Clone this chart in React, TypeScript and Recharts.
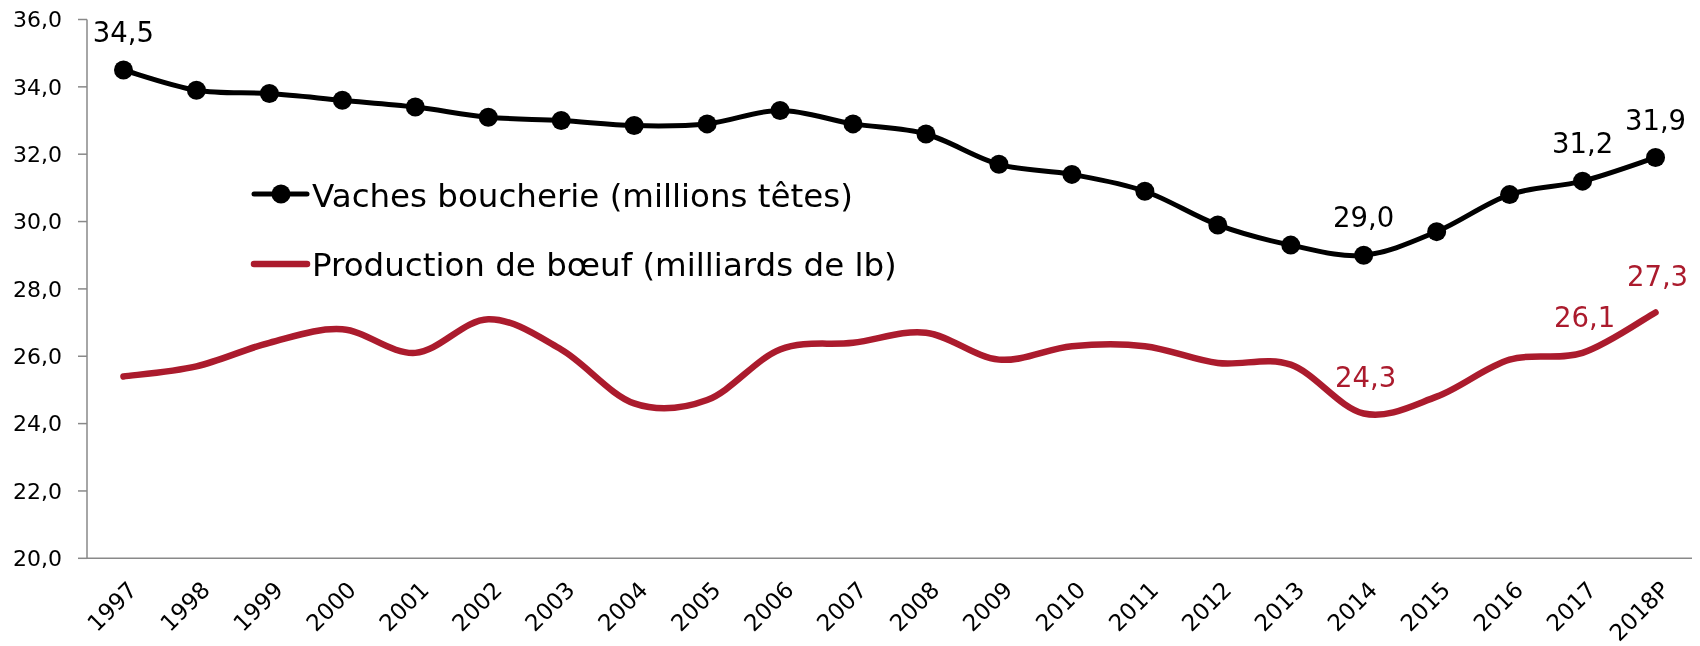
import React from 'react';
import { LineChart, Line, XAxis, YAxis, Legend } from 'recharts';

const years = ['1997', '1998', '1999', '2000', '2001', '2002', '2003', '2004', '2005', '2006', '2007', '2008', '2009', '2010', '2011', '2012', '2013', '2014', '2015', '2016', '2017', '2018P'];
const vaches = [34.5, 33.9, 33.8, 33.6, 33.4, 33.1, 33.0, 32.85, 32.9, 33.3, 32.9, 32.6, 31.7, 31.4, 30.9, 29.9, 29.3, 29.0, 29.7, 30.8, 31.2, 31.9];
const boeuf = [25.4, 25.7, 26.4, 26.8, 26.1, 27.1, 26.2, 24.6, 24.7, 26.2, 26.4, 26.7, 25.9, 26.3, 26.3, 25.8, 25.75, 24.3, 24.8, 25.9, 26.1, 27.3];
const seriesNames = ['Vaches boucherie (millions têtes)', 'Production de bœuf (milliards de lb)'];
const yTicks = [20, 22, 24, 26, 28, 30, 32, 34, 36];
const xBoundaryTicks = [0, 1, 2, 3, 4, 5, 6, 7, 8, 9, 10, 11, 12, 13, 14, 15, 16, 17, 18, 19, 20, 21, 22];
const blackLabelIdx = [0, 17, 20, 21];
const redLabelIdx = [17, 20, 21];

const RED = '#AB1B2D';
const AXIS = '#898989';
const FONT = 'DejaVu Sans';

const data = years.map((y, i) => ({ year: y, vaches: vaches[i], boeuf: boeuf[i] }));

const fmt = (v: number) => v.toFixed(1).replace('.', ',');

// Excel-like smoothed curve (Catmull-Rom as cubic Bezier)
const excelCurve: any = (context: any) => {
  let pts: number[][] = [];
  return {
    areaStart() {},
    areaEnd() {},
    lineStart() {
      pts = [];
    },
    lineEnd() {
      const n = pts.length;
      if (!n) return;
      context.moveTo(pts[0][0], pts[0][1]);
      if (n === 1) return;
      for (let i = 0; i < n - 1; i++) {
        const p0 = pts[i > 0 ? i - 1 : i];
        const p1 = pts[i];
        const p2 = pts[i + 1];
        const p3 = pts[i + 2 < n ? i + 2 : i + 1];
        context.bezierCurveTo(
          p1[0] + (p2[0] - p0[0]) / 6,
          p1[1] + (p2[1] - p0[1]) / 6,
          p2[0] - (p3[0] - p1[0]) / 6,
          p2[1] - (p3[1] - p1[1]) / 6,
          p2[0],
          p2[1]
        );
      }
    },
    point(x: number, y: number) {
      pts.push([+x, +y]);
    },
  };
};

const BlackDot = (props: any) => {
  const { cx, cy, index, payload } = props;
  return (
    <g key={`b${index}`}>
      <circle cx={cx} cy={cy} r={9.5} fill="#000" />
      {blackLabelIdx.includes(index) && (
        <text x={cx} y={cy - 28} textAnchor="middle" fontSize={27.5} fill="#000" fontFamily={FONT}>
          {fmt(payload.vaches)}
        </text>
      )}
    </g>
  );
};

const RedDot = (props: any) => {
  const { cx, cy, index, payload } = props;
  if (!redLabelIdx.includes(index)) return <g key={`r${index}`} />;
  return (
    <g key={`r${index}`}>
      <text x={cx + 2} y={cy - 26} textAnchor="middle" fontSize={27.5} fill={RED} fontFamily={FONT}>
        {fmt(payload.boeuf)}
      </text>
    </g>
  );
};

const YearTick = (props: any) => {
  const { x, y, payload } = props;
  const ax = x + 15;
  const ay = y + 32;
  return (
    <text x={ax} y={ay} transform={`rotate(-45 ${ax} ${ay})`} textAnchor="end" fontSize={23} fill="#000" fontFamily={FONT}>
      {payload.value}
    </text>
  );
};

const LegendContent = () => (
  <svg width={700} height={130} style={{ overflow: 'visible', display: 'block' }}>
    <line x1={6} y1={36} x2={59} y2={36} stroke="#000" strokeWidth={5} strokeLinecap="round" />
    <circle cx={33} cy={36} r={9.5} fill="#000" />
    <text x={64} y={48.5} fontSize={32.5} fill="#000" fontFamily={FONT}>
      {seriesNames[0]}
    </text>
    <line x1={6} y1={106} x2={59} y2={106} stroke={RED} strokeWidth={6.5} strokeLinecap="round" />
    <text x={64} y={118} fontSize={32.5} fill="#000" fontFamily={FONT}>
      {seriesNames[1]}
    </text>
  </svg>
);

export default function App() {
  return (
    <div style={{ position: 'fixed', left: 0, top: 0, width: 1700, height: 646 }}>
      <LineChart
        width={1700}
        height={646}
        data={data}
        margin={{ top: 19.5, right: 8, left: 8, bottom: 0 }}
        style={{ fontFamily: FONT }}
      >
        <XAxis
          xAxisId="b"
          dataKey="year"
          scale="band"
          height={86.7}
          axisLine={false}
          tickLine={false}
          tickSize={0}
          tickMargin={0}
          interval={0}
          tick={<YearTick />}
        />
        <XAxis
          xAxisId="a"
          type="number"
          domain={[0, 22]}
          ticks={xBoundaryTicks}
          tick={false}
          height={1}
          axisLine={{ stroke: AXIS, strokeWidth: 1.5 }}
          tickLine={{ stroke: AXIS, strokeWidth: 1.5 }}
          tickSize={8}
          allowDataOverflow
        />
        <YAxis
          domain={[20, 36]}
          ticks={yTicks}
          width={79}
          tickFormatter={fmt}
          tick={{ fontSize: 22, fill: '#000', fontFamily: FONT }}
          axisLine={{ stroke: AXIS, strokeWidth: 1.5 }}
          tickLine={{ stroke: AXIS, strokeWidth: 1.5 }}
          tickSize={9}
          tickMargin={16}
          allowDataOverflow
        />
        <Legend
          layout="horizontal"
          align="center"
          verticalAlign="middle"
          wrapperStyle={{ left: 248, top: 158, width: 700, height: 130 }}
          content={<LegendContent />}
        />
        <Line
          xAxisId="b"
          dataKey="boeuf"
          name={seriesNames[1]}
          type={excelCurve}
          stroke={RED}
          strokeWidth={6.5}
          strokeLinecap="round"
          dot={<RedDot />}
          activeDot={false}
          isAnimationActive={false}
        />
        <Line
          xAxisId="b"
          dataKey="vaches"
          name={seriesNames[0]}
          type={excelCurve}
          stroke="#000"
          strokeWidth={5}
          dot={<BlackDot />}
          activeDot={false}
          isAnimationActive={false}
        />
      </LineChart>
    </div>
  );
}
